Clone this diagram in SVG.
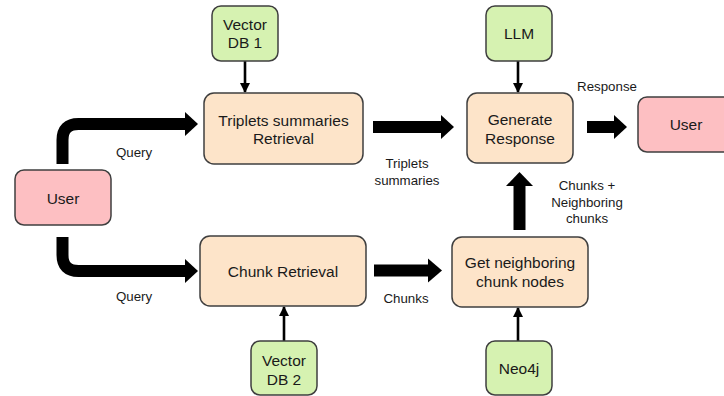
<svg xmlns="http://www.w3.org/2000/svg" width="724" height="396" viewBox="0 0 724 396">
<defs>
<style>
.box{stroke:#3f3f3f;stroke-width:1.5}
.proc{fill:#fde4c9}
.db{fill:#d6f2b1}
.user{fill:#fdbfc2}
text{font-family:"Liberation Sans",Arial,sans-serif;fill:#1a1a1a;text-anchor:middle}
.n{font-size:15.5px}
.l{font-size:13.3px}
.thin{stroke:#000;stroke-width:2.6;fill:none}
.thick{stroke:#000;stroke-width:12;fill:none}
.head{fill:#000}
</style>
<marker id="ah" markerWidth="10" markerHeight="10" viewBox="0 0 10 10" refX="9" refY="5" orient="auto" markerUnits="userSpaceOnUse">
<path d="M0,0 L10,5 L0,10 Z" fill="#000"/>
</marker>
</defs>
<rect width="724" height="396" fill="#fff"/>

<g id="connectors">
<line class="thin" x1="245" y1="61" x2="245" y2="92" marker-end="url(#ah)"/>
<line class="thin" x1="518" y1="61" x2="518" y2="92" marker-end="url(#ah)"/>
<line class="thin" x1="284" y1="341" x2="284" y2="307" marker-end="url(#ah)"/>
<line class="thin" x1="518" y1="341" x2="518" y2="308" marker-end="url(#ah)"/>
<path class="thick" d="M62.5,164 V140 Q62.5,124 78.5,124 H186"/>
<polygon class="head" points="185,112 198,124 185,136"/>
<path class="thick" d="M62.5,237 V255 Q62.5,271 78.5,271 H186"/>
<polygon class="head" points="185,259 198,271 185,283"/>
<path class="thick" d="M373,127 H442"/>
<polygon class="head" points="441,115 454,127 441,139"/>
<path class="thick" d="M587,127 H615"/>
<polygon class="head" points="614,115 627,127 614,139"/>
<path class="thick" d="M374,270.5 H429"/>
<polygon class="head" points="428,258.5 442,270.5 428,282.5"/>
<path class="thick" d="M519.5,230 V185"/>
<polygon class="head" points="506,186 519.5,172 533,186"/>
</g>

<g id="vdb1"><rect class="box db" x="212" y="6" width="66" height="55" rx="9"/>
<text class="n" x="245" y="30">Vector</text><text class="n" x="245" y="48">DB 1</text></g>
<g id="triplets"><rect class="box proc" x="204" y="93" width="159" height="71" rx="10"/>
<text class="n" x="283.5" y="125.5">Triplets summaries</text><text class="n" x="283.5" y="144">Retrieval</text></g>
<g id="user-in"><rect class="box user" x="15" y="170" width="96" height="55" rx="9"/>
<text class="n" x="63" y="204">User</text></g>
<g id="llm"><rect class="box db" x="486" y="6" width="66" height="55" rx="9"/>
<text class="n" x="519" y="39">LLM</text></g>
<g id="generate"><rect class="box proc" x="467" y="93" width="106" height="70" rx="10"/>
<text class="n" x="520" y="125">Generate</text><text class="n" x="520" y="143.5">Response</text></g>
<g id="user-out"><rect class="box user" x="638" y="97" width="96" height="55" rx="9"/>
<text class="n" x="686" y="129.5">User</text></g>
<g id="chunkret"><rect class="box proc" x="200" y="236" width="166" height="70" rx="10"/>
<text class="n" x="283" y="277">Chunk Retrieval</text></g>
<g id="neighbors"><rect class="box proc" x="452" y="237" width="136" height="70" rx="10"/>
<text class="n" x="520" y="268">Get neighboring</text><text class="n" x="520" y="287">chunk nodes</text></g>
<g id="vdb2"><rect class="box db" x="251" y="341" width="66" height="54" rx="9"/>
<text class="n" x="284" y="366">Vector</text><text class="n" x="284" y="385">DB 2</text></g>
<g id="neo4j"><rect class="box db" x="486" y="341" width="66" height="54" rx="9"/>
<text class="n" x="519" y="374">Neo4j</text></g>

<g id="labels">
<text class="l" x="134" y="157">Query</text>
<text class="l" x="134" y="301">Query</text>
<text class="l" x="407" y="168">Triplets</text><text class="l" x="407" y="185">summaries</text>
<text class="l" x="607" y="91">Response</text>
<text class="l" x="587" y="190">Chunks +</text><text class="l" x="587" y="207">Neighboring</text><text class="l" x="587" y="223">chunks</text>
<text class="l" x="406" y="303">Chunks</text>
</g>
</svg>
